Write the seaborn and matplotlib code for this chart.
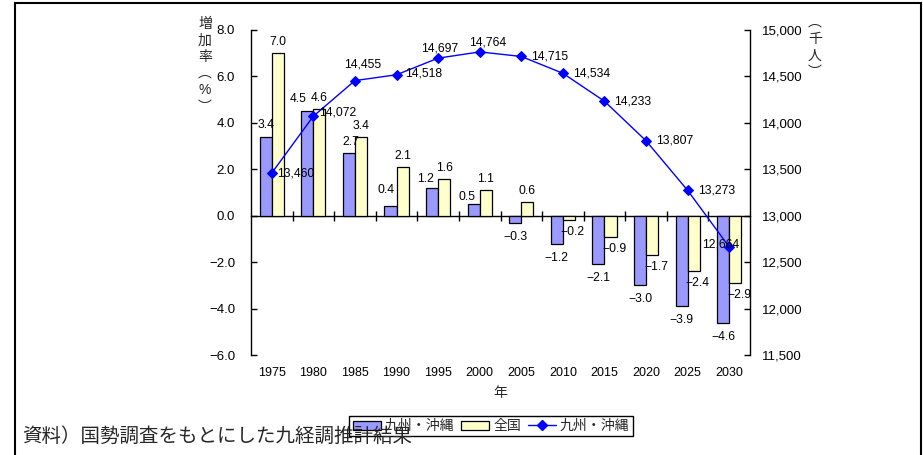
import numpy as np
import pandas as pd
import matplotlib
matplotlib.use("Agg")
import matplotlib.pyplot as plt
import seaborn as sns
from matplotlib.patches import Patch, Rectangle
from matplotlib.lines import Line2D
from matplotlib.ticker import FuncFormatter

# ---- data ----
years = ["1975", "1980", "1985", "1990", "1995", "2000",
         "2005", "2010", "2015", "2020", "2025", "2030"]
kyushu_rate = [3.4, 4.5, 2.7, 0.4, 1.2, 0.5, -0.3, -1.2, -2.1, -3.0, -3.9, -4.6]
national_rate = [7.0, 4.6, 3.4, 2.1, 1.6, 1.1, 0.6, -0.2, -0.9, -1.7, -2.4, -2.9]
kyushu_pop = [13460, 14072, 14455, 14518, 14697, 14764,
              14715, 14534, 14233, 13807, 13273, 12664]
series_names = ["九州・沖縄", "全国"]
line_name = "九州・沖縄"
rate_ticks = [-6.0, -4.0, -2.0, 0.0, 2.0, 4.0, 6.0, 8.0]
pop_ticks = [11500, 12000, 12500, 13000, 13500, 14000, 14500, 15000]
source_note = "資料）国勢調査をもとにした九経調推計結果"

# ---- style ----
sns.set_style("white")
plt.rcParams["font.family"] = ["Liberation Sans", "Noto Sans CJK JP", "DejaVu Sans"]
plt.rcParams["axes.unicode_minus"] = True

BAR_COLORS = ["#9999FF", "#FFFFCC"]
LINE_COLOR = "#0000FF"
W, H = 923, 455
PX = 0.72  # points per pixel at 100 dpi


def fx(px):
    return px / W


def fy(py):
    return 1 - py / H


def fmt_rate(v):
    return f"{v:.1f}".replace("-", "\u2212")


fig = plt.figure(figsize=(W / 100, H / 100), dpi=100)
ax = fig.add_axes([fx(251), fy(355), fx(750) - fx(251), fy(30) - fy(355)])

# ---- bars: growth rates ----
df = pd.DataFrame({
    "年": years * 2,
    "増加率": kyushu_rate + national_rate,
    "系列": [series_names[0]] * len(years) + [series_names[1]] * len(years),
})
sns.barplot(data=df, x="年", y="増加率", hue="系列", order=years,
            hue_order=series_names, palette=BAR_COLORS, saturation=1,
            width=0.58, edgecolor="black", linewidth=0.9, legend=False, ax=ax)

# ---- line: population on secondary axis ----
ax2 = ax.twinx()
sns.pointplot(x=years, y=kyushu_pop, order=years, color=LINE_COLOR,
              markers="D", markersize=5, linewidth=1.0, errorbar=None, ax=ax2)

ax.set_xlim(-0.5, len(years) - 0.5)
ax.set_ylim(-6, 8)
ax2.set_ylim(11500, 15000)

ax.set_yticks(rate_ticks)
ax.yaxis.set_major_formatter(FuncFormatter(lambda v, p: fmt_rate(v)))
ax2.set_yticks(pop_ticks)
ax2.yaxis.set_major_formatter(FuncFormatter(lambda v, p: f"{int(v):,}"))

ax.set_xticks(range(len(years)))
ax.set_xticklabels(years)
ax.set_xlabel("")
ax.set_ylabel("")
ax2.set_ylabel("")

for s in ["top", "bottom", "right"]:
    ax.spines[s].set_visible(False)
for s in ["top", "bottom", "left"]:
    ax2.spines[s].set_visible(False)
ax.spines["left"].set_color("black")
ax.spines["left"].set_linewidth(1.0)
ax2.spines["right"].set_color("black")
ax2.spines["right"].set_linewidth(1.0)

ax.tick_params(axis="y", left=True, direction="in", length=4, width=1,
               pad=11.5, labelsize=9.5, colors="black")
ax.tick_params(axis="x", bottom=True, length=0, pad=9, labelsize=9,
               colors="black")
ax2.tick_params(axis="y", right=True, direction="in", length=4, width=1,
                pad=8.5, labelsize=9.5, colors="black")

# zero line with category separators
zero_axis = ax.secondary_xaxis(6 / 14)
zero_axis.set_xticks(np.arange(0.5, len(years) - 1, 1.0))
zero_axis.tick_params(axis="x", bottom=True, direction="inout", length=7,
                      width=1, labelbottom=False, color="black")
zero_axis.spines["bottom"].set_color("black")
zero_axis.spines["bottom"].set_linewidth(1.0)

# ---- bar value labels ----
# pixel nudges for the positive 九州・沖縄 labels so they clear their neighbours
blue_pos_nudge = [(0, 12), (-9, 12), (2, 11), (-5, 16), (-7, 9), (-7, 7)]
for ci, (cont, vals) in enumerate(zip(ax.containers, [kyushu_rate, national_rate])):
    for i, (bar, v) in enumerate(zip(cont, vals)):
        cx = bar.get_x() + bar.get_width() / 2
        if v >= 0:
            off = blue_pos_nudge[i] if ci == 0 and i < len(blue_pos_nudge) else (0, 11)
        elif ci == 0:
            off = (0, -14)
        else:
            off = (4, -12)
        ax.annotate(fmt_rate(v), xy=(cx, v),
                    xytext=(off[0] * PX, off[1] * PX), textcoords="offset points",
                    ha="center", va="center", fontsize=8.75, color="black")

# ---- line value labels ----
line_label_place = [(5, 0, "left"), (6, 4, "left"), (8, 16, "center"),
                    (9, 1, "left"), (2, 10, "center"), (8, 9, "center"),
                    (10, 0, "left"), (10, 0, "left"), (10, 0, "left"),
                    (10, 0, "left"), (10, 0, "left"), (-9, 2, "center")]
for i, (v, (dx, dy, ha)) in enumerate(zip(kyushu_pop, line_label_place)):
    ax2.annotate(f"{v:,}", xy=(i, v), xytext=(dx * PX, dy * PX),
                 textcoords="offset points", ha=ha, va="center",
                 fontsize=8.75, color="black")

# ---- axis titles (stacked vertically) ----
for k, ch in enumerate(["増", "加", "率", "︵", "%", "︶"]):
    fig.text(fx(205), fy(24 + 16.5 * k), ch, ha="center", va="center",
             fontsize=10)
for k, ch in enumerate(["︵", "千", "人", "︶"]):
    fig.text(fx(815), fy(22.5 + 16.5 * k), ch, ha="center", va="center",
             fontsize=10)
fig.text(fx(500), fy(393), "年", ha="center", va="center", fontsize=10)

# ---- legend ----
handles = [
    Patch(facecolor=BAR_COLORS[0], edgecolor="black", linewidth=0.9),
    Patch(facecolor=BAR_COLORS[1], edgecolor="black", linewidth=0.9),
    Line2D([0], [0], color=LINE_COLOR, marker="D", markersize=5, linewidth=1.0),
]
leg = fig.legend(handles, series_names + [line_name], loc="center",
                 bbox_to_anchor=(fx(491), fy(426)), ncol=3, frameon=True,
                 fancybox=False, edgecolor="black", framealpha=1, fontsize=10,
                 handlelength=2.0, handleheight=0.6, handletextpad=0.3,
                 columnspacing=0.5, borderpad=0.25, borderaxespad=0)
leg.get_frame().set_linewidth(1.0)

# ---- source note and outer frame ----
fig.text(fx(22), fy(436), source_note, ha="left", va="center", fontsize=14,
         zorder=10)
fig.add_artist(Rectangle((fx(15.5), -0.05), fx(920.5) - fx(15.5), fy(3.5) + 0.05,
                         transform=fig.transFigure, fill=False,
                         edgecolor="black", linewidth=1.5))

fig.savefig("out.png", dpi=100)
